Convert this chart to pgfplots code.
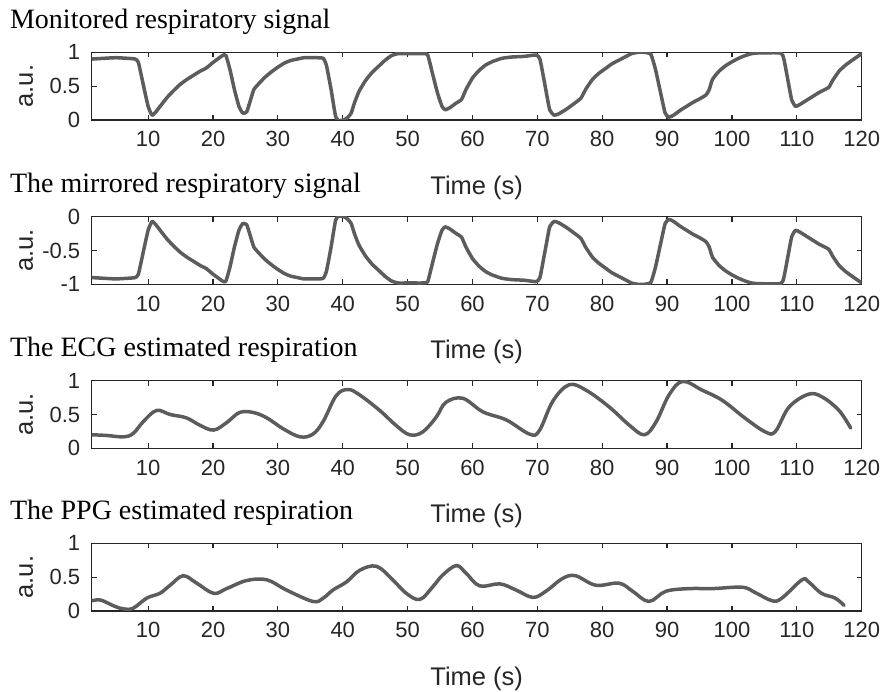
\documentclass[border=0pt]{standalone}
\usepackage{fontspec}
\setmainfont{Liberation Serif}
\setsansfont{Liberation Sans}
\usepackage{pgfplots}
\pgfplotsset{compat=1.18}
\usepackage{pgfplotstable}

\definecolor{axcol}{RGB}{38,38,38}
\definecolor{lncol}{RGB}{92,92,92}

\pgfplotstableread{
t y
1.3 0.90
3 0.91
5 0.92
7 0.91
8 0.90
8.5 0.85
9.3 0.50
10 0.20
10.6 0.07
11.2 0.12
12 0.22
13 0.34
14 0.44
15 0.53
16 0.60
17 0.66
18 0.72
19 0.77
20 0.85
21 0.92
21.6 0.96
22.0 0.95
22.6 0.75
23.3 0.45
24 0.20
24.6 0.10
25.2 0.12
25.8 0.30
26.3 0.45
27 0.53
28 0.63
29 0.71
30 0.78
31 0.84
32 0.88
33 0.90
34 0.92
36 0.92
37 0.91
37.5 0.80
38.2 0.45
38.9 0.05
39.4 -0.01
40.2 0.00
40.8 0.04
41.3 0.10
41.8 0.25
42.5 0.42
43.5 0.58
44.5 0.70
45.5 0.79
46.5 0.88
47.5 0.95
48.5 0.98
50 0.98
52.5 0.98
53.1 0.96
53.8 0.70
54.6 0.40
55.3 0.20
55.8 0.15
56.5 0.18
57.5 0.25
58.3 0.30
59 0.45
60 0.62
61 0.73
62 0.81
63 0.86
64.5 0.91
66 0.93
68 0.94
69.8 0.96
70.4 0.90
71.2 0.50
71.9 0.15
72.6 0.07
73.3 0.09
74.5 0.16
75.5 0.23
76.7 0.32
77.5 0.46
78.5 0.60
79.5 0.69
80.5 0.76
81.5 0.83
82.5 0.88
83.5 0.93
84.5 0.98
85.5 1.00
86.5 1.00
87.5 0.97
88.2 0.75
89.0 0.40
89.7 0.10
90.3 0.04
91 0.07
92 0.14
93 0.20
94 0.26
95 0.31
96 0.37
96.5 0.45
97 0.60
98 0.72
99 0.80
100 0.86
101 0.91
102 0.95
103 0.98
104 0.99
107.5 0.99
108 0.90
108.6 0.60
109.2 0.30
109.8 0.20
110.5 0.23
111.5 0.29
112.5 0.35
113.5 0.41
114.9 0.48
115.5 0.58
116.5 0.72
117.5 0.81
118.5 0.88
120 0.98
}\resp

\pgfplotstableread{
t y
1.4 0.20
3.6 0.19
6.2 0.17
7.7 0.22
9.3 0.40
11.3 0.56
13.4 0.50
15.9 0.45
18 0.34
20.1 0.27
22.1 0.38
24.1 0.53
26.2 0.53
28.3 0.45
30.8 0.29
33.4 0.17
35.4 0.21
37 0.40
39 0.78
40.8 0.87
42.6 0.79
45.7 0.56
48.2 0.34
50.3 0.20
52.3 0.24
54.4 0.46
55.9 0.68
58.5 0.74
61.6 0.54
65.2 0.42
68.8 0.21
70.3 0.26
72.4 0.70
74.9 0.94
77.5 0.86
81.1 0.61
84.2 0.34
86.5 0.20
88.3 0.39
90.3 0.79
92.4 0.99
95.4 0.86
98.5 0.71
102.1 0.44
105.2 0.24
106.7 0.25
108.8 0.61
111.8 0.80
113.9 0.76
116.5 0.56
118.3 0.30
}\ecg

\pgfplotstableread{
t y
1.4 0.15
2.7 0.16
4.8 0.07
6.2 0.03
7.7 0.04
9.8 0.19
11.8 0.26
13.4 0.38
15.4 0.52
17.5 0.41
20.1 0.26
22.1 0.33
25.2 0.45
28.3 0.46
31.3 0.31
35.4 0.14
37 0.19
38.5 0.31
40.6 0.43
42.6 0.60
45.2 0.66
47.7 0.46
49.8 0.26
51.9 0.17
53.9 0.36
55.4 0.53
57.5 0.67
59 0.56
61.1 0.37
64.2 0.40
66.7 0.31
69.3 0.20
71.3 0.29
73.9 0.48
75.9 0.52
79 0.38
82.6 0.41
84.7 0.29
87.2 0.14
89.8 0.29
93.4 0.33
97 0.33
101.6 0.35
103.6 0.27
106.2 0.15
107.7 0.19
110.8 0.46
111.8 0.43
113.8 0.26
115.9 0.19
117.3 0.08
}\ppg

\pgfplotsset{
 every axis title shift=0pt,
 panel/.style={
  width=385pt, height=33.8pt, scale only axis,
  anchor=north west,
  xmin=1.3, xmax=120,
  ymin=0, ymax=1, ytick={0,0.5,1},
  xtick={10,20,...,120},
  tick align=inside,
  major tick length=2.5pt,
  axis line style={axcol, line width=0.6pt},
  every tick/.style={axcol, line width=0.6pt},
  tick label style={font=\sffamily\fontsize{11}{13}\selectfont, text=axcol},
  /pgf/number format/assume math mode=true,
  xticklabel style={yshift=-2.3pt},
  yticklabel style={xshift=-2.2pt},
  xlabel={Time (s)},
  ylabel={a.u.},
  label style={font=\sffamily\fontsize{12.75}{14}\selectfont, text=axcol},
  xlabel style={at={(rel axis cs:0.5,-1.1)}, anchor=base},
  ylabel style={at={(rel axis cs:-0.0852,0.5)}, anchor=center},
  title style={at={(rel axis cs:-0.1065,1.355)}, anchor=base west, font=\fontsize{14}{16}\selectfont, inner sep=0pt},
 },
 sig/.style={lncol, line width=1.75pt, line join=round, line cap=round},
}

\begin{document}
\begin{tikzpicture}
\begin{axis}[panel, at={(0,0)}, title={Monitored respiratory signal}]
\addplot[sig, smooth, tension=0.3] table[x=t, y=y] {\resp};
\end{axis}
\begin{axis}[panel, at={(0,-82.2pt)}, ymin=-1, ymax=0, ytick={-1,-0.5,0}, title={The mirrored respiratory signal}]
\addplot[sig, smooth, tension=0.3] table[x=t, y expr=-\thisrow{y}] {\resp};
\end{axis}
\begin{axis}[panel, at={(0,-164.2pt)}, title={The ECG estimated respiration}]
\addplot[sig, smooth, tension=0.6] table[x=t, y=y] {\ecg};
\end{axis}
\begin{axis}[panel, at={(0,-245.5pt)}, title={The PPG estimated respiration}]
\addplot[sig, smooth, tension=0.6] table[x=t, y=y] {\ppg};
\end{axis}
\pgfresetboundingbox
\path[use as bounding box] (-45.85pt,26.15pt) rectangle (395.65pt,-319.35pt);
\end{tikzpicture}
\end{document}
